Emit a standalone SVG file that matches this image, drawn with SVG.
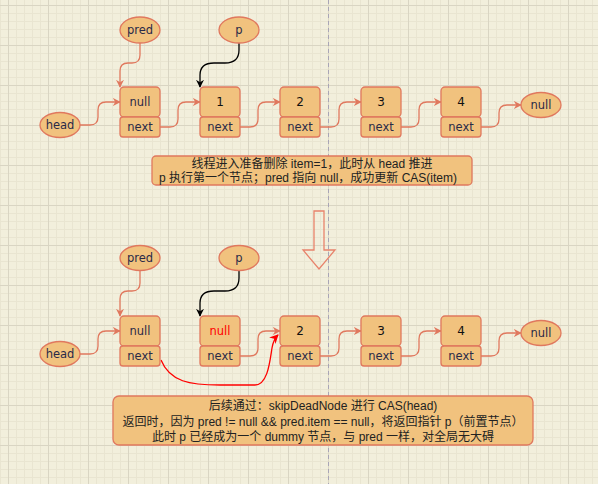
<svg xmlns="http://www.w3.org/2000/svg" width="598" height="484" viewBox="0 0 598 484">
<defs>
<pattern id="minor" x="0" y="5" width="8" height="8" patternUnits="userSpaceOnUse">
<rect x="0" y="0" width="8" height="1" fill="#e9e5d1"/>
<rect x="0" y="0" width="1" height="8" fill="#e9e5d1"/>
</pattern>
<pattern id="major" x="8" y="5" width="40" height="40" patternUnits="userSpaceOnUse">
<rect x="0" y="0" width="40" height="1" fill="#d9d5c3"/>
<rect x="0" y="0" width="1" height="40" fill="#d9d5c3"/>
</pattern>
<marker id="arr" viewBox="0 0 10 10" refX="9" refY="5" markerWidth="8" markerHeight="8" markerUnits="userSpaceOnUse" orient="auto">
<path d="M0,0 L10,5 L0,10 L3,5 z" fill="#e0785e"/>
</marker>
<marker id="arrK" viewBox="0 0 10 10" refX="9" refY="5" markerWidth="8" markerHeight="8" markerUnits="userSpaceOnUse" orient="auto">
<path d="M0,0 L10,5 L0,10 L3,5 z" fill="#000"/>
</marker>
<marker id="arrR" viewBox="0 0 10 10" refX="9" refY="5" markerWidth="9" markerHeight="9" markerUnits="userSpaceOnUse" orient="auto">
<path d="M0,0 L10,5 L0,10 L3,5 z" fill="#ff0000"/>
</marker>
<style>
.node rect, .node ellipse { fill:#f1c27e; stroke:#e0785e; stroke-width:1.3; }
.nt { font-family:"DejaVu Sans","Liberation Sans",sans-serif; font-size:11.5px; fill:#2a2a48; text-anchor:middle; }
.num { font-family:"DejaVu Sans","Liberation Sans",sans-serif; font-size:12px; fill:#111; text-anchor:middle; }
.edge { fill:none; stroke:#e0785e; stroke-width:1.3; marker-end:url(#arr); }
.edgeK { fill:none; stroke:#000; stroke-width:1.3; marker-end:url(#arrK); }
.edgeR { fill:none; stroke:#ff0000; stroke-width:1.3; marker-end:url(#arrR); }
.note rect { fill:#f1c27e; stroke:#e0785e; stroke-width:1.3; }
.ntx { font-family:"Liberation Sans","Noto Sans CJK SC",sans-serif; font-size:12px; fill:#222; text-anchor:middle; }
</style>
</defs>
<rect width="598" height="484" fill="#f2efdc"/>
<rect width="598" height="484" fill="url(#minor)"/>
<rect width="598" height="484" fill="url(#major)"/>
<line x1="328.5" y1="0" x2="328.5" y2="484" stroke="#a9a5b6" stroke-width="1" stroke-dasharray="4 3"/>

<g id="connectors">
<path class="edge" d="M140,43 L140,55 Q140,63 132,63 L128,63 Q120,63 120,71 L120,87"/>
<path class="edgeK" d="M239,43 L239,50 Q239,63 225,63 L214,63 Q200,63 200,75 L200,87"/>
<path class="edge" d="M80,125 L90,125 Q98,125 98,117 L98,110 Q98,102 106,102 L120,102"/>
<path class="edge" d="M160,127 L170,127 Q178,127 178,119 L178,110 Q178,102 186,102 L200,102"/>
<path class="edge" d="M240,127 L250,127 Q258,127 258,119 L258,110 Q258,102 266,102 L280,102"/>
<path class="edge" d="M320,127 L331,127 Q339,127 339,119 L339,110 Q339,102 347,102 L361,102"/>
<path class="edge" d="M401,127 L411,127 Q419,127 419,119 L419,110 Q419,102 427,102 L441,102"/>
<path class="edge" d="M481,127 L491,127 Q499,127 499,119 L499,113 Q499,105 507,105 L521,105"/>

<path class="edge" d="M140,271 L140,283 Q140,291 132,291 L128,291 Q120,291 120,299 L120,316"/>
<path class="edgeK" d="M239,271 L239,278 Q239,291 225,291 L214,291 Q200,291 200,303 L200,316"/>
<path class="edge" d="M80,354 L90,354 Q98,354 98,346 L98,339 Q98,331 106,331 L120,331"/>
<path class="edge" d="M240,356 L250,356 Q258,356 258,348 L258,339 Q258,331 266,331 L280,331"/>
<path class="edge" d="M320,356 L331,356 Q339,356 339,348 L339,339 Q339,331 347,331 L361,331"/>
<path class="edge" d="M401,356 L411,356 Q419,356 419,348 L419,339 Q419,331 427,331 L441,331"/>
<path class="edge" d="M481,356 L491,356 Q499,356 499,348 L499,341 Q499,333 507,333 L521,333"/>
<path class="edgeR" d="M161,360 C170,382 190,385 220,385 L255,385 C268,385 270,360 272,348 C273,342 275,338 278,335"/>
</g>

<g id="pred1" class="node"><ellipse cx="140" cy="30" rx="20" ry="13"/><text class="nt" x="140" y="34">pred</text></g>
<g id="p1" class="node"><ellipse cx="239" cy="30" rx="20" ry="13"/><text class="nt" x="239" y="34">p</text></g>
<g id="head1" class="node"><ellipse cx="60" cy="125" rx="20" ry="12.5"/><text class="nt" x="60" y="129">head</text></g>
<g id="n0" class="node"><rect x="120" y="87" width="40" height="30" rx="4"/><rect x="120" y="117" width="40" height="20" rx="3"/><text class="nt" x="140" y="106">null</text><text class="nt" x="140" y="131">next</text></g>
<g id="n1" class="node"><rect x="200" y="87" width="40" height="30" rx="4"/><rect x="200" y="117" width="40" height="20" rx="3"/><text class="num" x="220" y="106">1</text><text class="nt" x="220" y="131">next</text></g>
<g id="n2" class="node"><rect x="280" y="87" width="40" height="30" rx="4"/><rect x="280" y="117" width="40" height="20" rx="3"/><text class="num" x="300" y="106">2</text><text class="nt" x="300" y="131">next</text></g>
<g id="n3" class="node"><rect x="361" y="87" width="40" height="30" rx="4"/><rect x="361" y="117" width="40" height="20" rx="3"/><text class="num" x="381" y="106">3</text><text class="nt" x="381" y="131">next</text></g>
<g id="n4" class="node"><rect x="441" y="87" width="40" height="30" rx="4"/><rect x="441" y="117" width="40" height="20" rx="3"/><text class="num" x="461" y="106">4</text><text class="nt" x="461" y="131">next</text></g>
<g id="null1" class="node"><ellipse cx="541" cy="105" rx="20" ry="12.5"/><text class="nt" x="541" y="109">null</text></g>

<g id="note1" class="note"><rect x="152" y="156" width="320" height="29" rx="4"/>
<text class="ntx" x="312" y="168">线程进入准备删除 item=1，此时从 head 推进</text>
<text class="ntx" x="308" y="182">p 执行第一个节点；pred 指向 null，成功更新 CAS(item)</text></g>

<g id="downArrow"><polygon points="314,211 324,211 324,250 335,250 319,269 303,250 314,250" fill="none" stroke="#e8836b" stroke-width="1.3"/></g>

<g id="pred2" class="node"><ellipse cx="140" cy="258" rx="20" ry="12.5"/><text class="nt" x="140" y="262">pred</text></g>
<g id="p2" class="node"><ellipse cx="239" cy="258" rx="20" ry="12.5"/><text class="nt" x="239" y="262">p</text></g>
<g id="head2" class="node"><ellipse cx="60" cy="354" rx="20" ry="12.5"/><text class="nt" x="60" y="358">head</text></g>
<g id="m0" class="node"><rect x="120" y="316" width="40" height="30" rx="4"/><rect x="120" y="346" width="40" height="20" rx="3"/><text class="nt" x="140" y="335">null</text><text class="nt" x="140" y="360">next</text></g>
<g id="m1" class="node"><rect x="200" y="316" width="40" height="30" rx="4"/><rect x="200" y="346" width="40" height="20" rx="3"/><text class="nt" x="220" y="335" style="fill:#ff0000">null</text><text class="nt" x="220" y="360">next</text></g>
<g id="m2" class="node"><rect x="280" y="316" width="40" height="30" rx="4"/><rect x="280" y="346" width="40" height="20" rx="3"/><text class="num" x="300" y="335">2</text><text class="nt" x="300" y="360">next</text></g>
<g id="m3" class="node"><rect x="361" y="316" width="40" height="30" rx="4"/><rect x="361" y="346" width="40" height="20" rx="3"/><text class="num" x="381" y="335">3</text><text class="nt" x="381" y="360">next</text></g>
<g id="m4" class="node"><rect x="441" y="316" width="40" height="30" rx="4"/><rect x="441" y="346" width="40" height="20" rx="3"/><text class="num" x="461" y="335">4</text><text class="nt" x="461" y="360">next</text></g>
<g id="null2" class="node"><ellipse cx="541" cy="333" rx="20" ry="12.5"/><text class="nt" x="541" y="337">null</text></g>

<g id="note2" class="note"><rect x="113" y="396" width="420" height="49" rx="6"/>
<text class="ntx" x="323" y="410">后续通过：skipDeadNode 进行 CAS(head)</text>
<text class="ntx" x="323" y="426">返回时，因为 pred != null &amp;&amp; pred.item == null，将返回指针 p（前置节点）</text>
<text class="ntx" x="323" y="441">此时 p 已经成为一个 dummy 节点，与 pred 一样，对全局无大碍</text></g>
</svg>
